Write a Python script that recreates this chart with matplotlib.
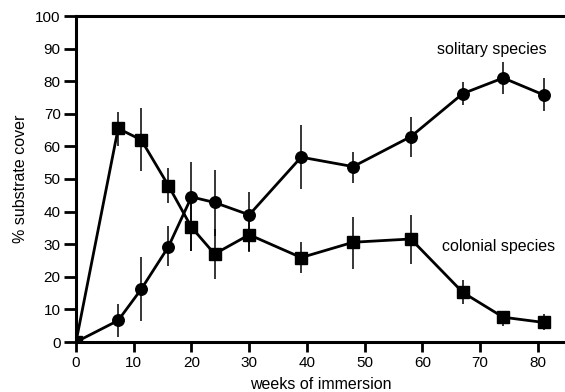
import matplotlib
matplotlib.use("Agg")
import matplotlib.pyplot as plt

plt.rcParams['font.family'] = ['Liberation Sans', 'DejaVu Sans']

# weeks of immersion
weeks = [0, 7.3, 11.3, 16, 20, 24, 30, 39, 48, 58, 67, 74, 81]

# solitary species: mean cover and error bar extents
sol_mean = [0, 6.6, 16.2, 29.2, 44.5, 42.8, 39.0, 56.7, 53.8, 63.0, 76.2, 81.0, 75.8]
sol_low = [0, 1.6, 6.4, 23.4, 27.8, 32.4, 28.0, 47.0, 48.8, 56.7, 72.7, 76.0, 70.9]
sol_high = [0, 11.7, 26.2, 35.6, 55.2, 52.8, 46.1, 66.5, 58.3, 69.0, 79.8, 85.9, 81.0]

# colonial species
col_mean = [0, 65.5, 62.0, 48.0, 35.2, 27.0, 32.9, 25.9, 30.6, 31.6, 15.2, 7.6, 6.0]
col_low = [0, 60.2, 52.5, 42.5, 28.0, 19.3, 27.7, 21.1, 22.4, 23.9, 11.6, 4.9, 3.7]
col_high = [0, 70.6, 71.8, 53.4, 43.5, 34.6, 38.5, 30.6, 38.3, 39.0, 19.0, 9.0, 8.5]

x_ticks = [0, 10, 20, 30, 40, 50, 60, 70, 80]
y_ticks = [0, 10, 20, 30, 40, 50, 60, 70, 80, 90, 100]

fig = plt.figure(figsize=(5.65, 3.92), dpi=100)
ax = fig.add_axes([76 / 565, 1 - 342 / 392, 1 - 76 / 565, (342 - 16) / 392])


def err(mean, low, high):
    return [[m - l for m, l in zip(mean, low)], [h - m for m, h in zip(mean, high)]]


ax.errorbar(weeks, sol_mean, yerr=err(sol_mean, sol_low, sol_high), fmt='o-',
            color='black', ms=8.3, lw=2.0, elinewidth=1.1, capsize=0, zorder=3)
ax.errorbar(weeks, col_mean, yerr=err(col_mean, col_low, col_high), fmt='s-',
            color='black', ms=8.0, lw=2.0, elinewidth=1.1, capsize=0, zorder=3)

ax.text(72, 89.6, 'solitary species', ha='center', va='center', fontsize=11.5)
ax.text(73.2, 29.2, 'colonial species', ha='center', va='center', fontsize=11.5)

ax.set_xlim(0, 84.7)
ax.set_ylim(0, 100)
ax.set_xticks(x_ticks)
ax.set_yticks(y_ticks)
ax.tick_params(axis='y', direction='out', length=9, width=2, labelsize=11, pad=2)
ax.tick_params(axis='x', direction='out', length=7, width=2, labelsize=11, pad=3)

for side in ['left', 'bottom', 'top']:
    ax.spines[side].set_linewidth(2.2)
ax.spines['right'].set_visible(False)

ax.set_xlabel('weeks of immersion', fontsize=11.5, labelpad=5)
ax.set_ylabel('% substrate cover', fontsize=11.5, labelpad=5)

fig.savefig('out.png', dpi=100)
